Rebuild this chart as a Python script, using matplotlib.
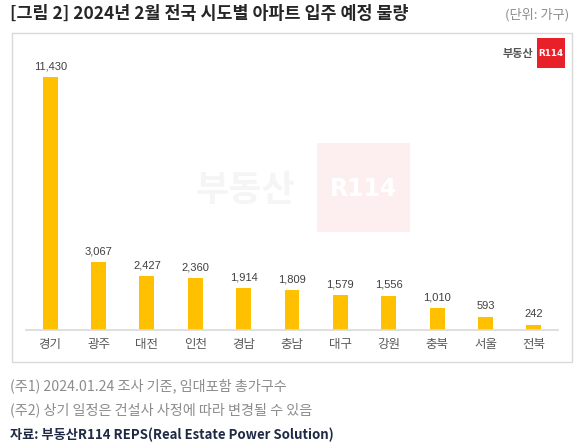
import matplotlib
matplotlib.use("Agg")
import matplotlib.pyplot as plt
from matplotlib.patches import Rectangle

plt.rcParams['font.family'] = ['Noto Sans CJK KR', 'DejaVu Sans']

categories = ['경기', '광주', '대전', '인천', '경남', '충남', '대구', '강원', '충북', '서울', '전북']
values = [11430, 3067, 2427, 2360, 1914, 1809, 1579, 1556, 1010, 593, 242]
value_labels = [f"{v:,}" for v in values]

title = "[그림 2] 2024년 2월 전국 시도별 아파트 입주 예정 물량"
unit = "(단위: 가구)"
notes = ["(주1) 2024.01.24 조사 기준, 임대포함 총가구수",
         "(주2) 상기 일정은 건설사 사정에 따라 변경될 수 있음"]
source = "자료: 부동산R114 REPS(Real Estate Power Solution)"

W, H = 580, 443
fig = plt.figure(figsize=(W / 100, H / 100), dpi=100)
fig.patch.set_facecolor('white')

def fx(px):
    return px / W

def fy(py):
    return 1 - py / H

# panel border
fig.patches.append(Rectangle((fx(12), fy(362)), fx(572) - fx(12), fy(33) - fy(362),
                             transform=fig.transFigure, fill=False,
                             edgecolor='#D9D9D9', lw=1.0, zorder=-2))

# watermark
fig.patches.append(Rectangle((fx(317), fy(232)), fx(410) - fx(317), fy(143) - fy(232),
                             transform=fig.transFigure, facecolor='#FDEFF0',
                             edgecolor='none', zorder=-1))
fig.text(fx(364), fy(189), "R114", color='white', fontsize=17, fontweight='bold',
         ha='center', va='center', family=['DejaVu Sans'], zorder=-1)
fig.text(fx(245), fy(190), "부동산", color='#F5F5F5', fontsize=26, fontweight='bold',
         ha='center', va='center', zorder=-1)

# logo top-right
fig.patches.append(Rectangle((fx(537), fy(68)), fx(565) - fx(537), fy(38) - fy(68),
                             transform=fig.transFigure, facecolor='#E8202A',
                             edgecolor='none', zorder=2))
fig.text(fx(551), fy(53), "R114", color='white', fontsize=6.3, fontweight='bold',
         ha='center', va='center', family=['DejaVu Sans'], zorder=3)
fig.text(fx(533), fy(53), "부동산", color='#555555', fontsize=8, fontweight='bold',
         ha='right', va='center', zorder=3)

# axes
ax = fig.add_axes([fx(26), 113 / H, (558 - 26) / W, 288 / H])
ax.patch.set_alpha(0)
x = list(range(len(categories)))
bars = ax.bar(x, values, width=0.31, color='#FFC000', zorder=2)
ax.set_xlim(-0.5, len(categories) - 0.5)
ax.set_ylim(0, 13000)
for b, lab in zip(bars, value_labels):
    ax.annotate(lab, (b.get_x() + b.get_width() / 2, b.get_height()),
                xytext=(0, 4), textcoords='offset points', ha='center', va='bottom',
                fontsize=8, color='#404040', family=['Liberation Sans'])
for s in ['top', 'right', 'left']:
    ax.spines[s].set_visible(False)
ax.spines['bottom'].set_color('#D9D9D9')
ax.spines['bottom'].set_linewidth(1.2)
ax.set_yticks([])
ax.set_xticks(x)
ax.set_xticklabels(categories, fontsize=9, color='#595959')
ax.tick_params(axis='x', length=0, pad=6)

# texts
fig.text(fx(10), fy(14), title, fontsize=12.5, fontweight='bold', color='#262626',
         ha='left', va='center')
fig.text(fx(569), fy(15), unit, fontsize=9.5, color='#8C8C8C', ha='right', va='center')
fig.text(fx(10), fy(386), notes[0], fontsize=10.2, color='#8C8C8C', ha='left', va='center')
fig.text(fx(10), fy(410), notes[1], fontsize=10.2, color='#8C8C8C', ha='left', va='center')
fig.text(fx(10), fy(435), source, fontsize=9.5, fontweight='bold', color='#1F2A44',
         ha='left', va='center')

fig.savefig("out.png", dpi=100)
